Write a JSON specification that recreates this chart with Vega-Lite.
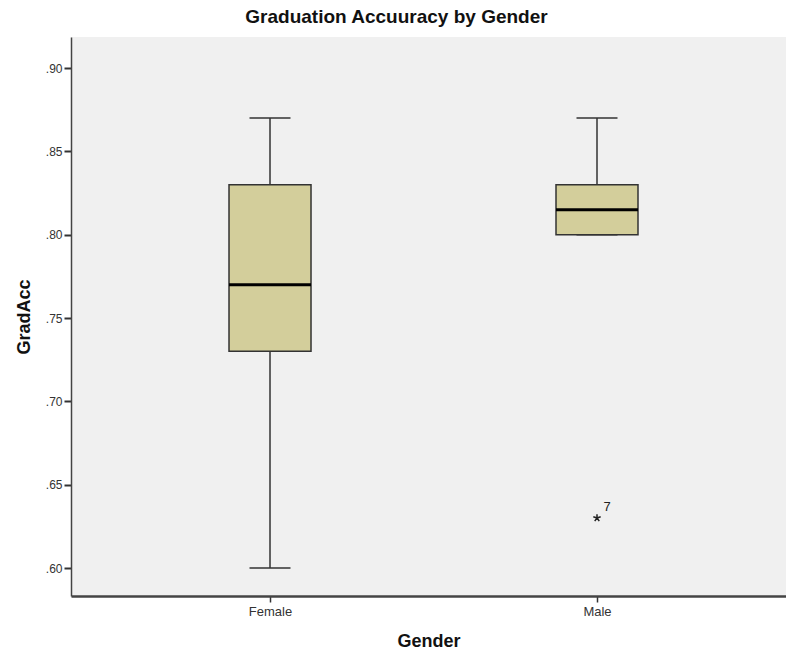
{
  "$schema": "https://vega.github.io/schema/vega-lite/v6.json",
  "width": 715,
  "height": 559,
  "autosize": {"type": "none"},
  "padding": {"left": 71, "top": 37, "right": 0, "bottom": 63},
  "background": "white",
  "title": {"text": "Graduation Accuuracy by Gender", "font": "Liberation Sans", "fontSize": 19, "fontWeight": "bold", "color": "#111", "anchor": "middle", "dx": -32, "offset": 10},
  "config": {
    "view": {"fill": "#f0f0f0", "stroke": null},
    "axis": {"labelFont": "Liberation Sans", "titleFont": "Liberation Sans", "labelColor": "#333", "titleColor": "#111", "domainColor": "#444", "tickColor": "#333", "grid": false}
  },
  "datasets": {
    "boxes": [
      {"Gender": "Female", "lower": 0.60, "q1": 0.73, "median": 0.77, "q3": 0.83, "upper": 0.87},
      {"Gender": "Male", "lower": 0.80, "q1": 0.80, "median": 0.815, "q3": 0.83, "upper": 0.87}
    ],
    "outliers": [
      {"Gender": "Male", "GradAcc": 0.63, "case": "7"}
    ]
  },
  "encoding": {
    "x": {"field": "Gender", "type": "nominal", "sort": ["Female", "Male"],
      "scale": {"type": "point", "padding": 0.5933, "align": 0.5129},
      "axis": {"title": "Gender", "labelAngle": 0, "labelFontSize": 13, "titleFontSize": 18, "titleFontWeight": "bold", "tickSize": 6, "tickWidth": 1.5, "labelPadding": 3, "titlePadding": 14, "domainWidth": 2.5}}
  },
  "layer": [
    {
      "data": {"name": "boxes"},
      "mark": {"type": "rule", "color": "#333", "strokeWidth": 1.5},
      "encoding": {
        "y": {"field": "lower", "type": "quantitative", "scale": {"domain": [0.5832, 0.9186], "nice": false, "zero": false},
          "axis": {"title": "GradAcc", "values": [0.6, 0.65, 0.7, 0.75, 0.8, 0.85, 0.9], "labelExpr": "replace(format(datum.value, '.2f'), '0.', '.')", "labelFontSize": 12, "titleFontSize": 18, "titleFontWeight": "bold", "tickSize": 7, "tickWidth": 2, "domainWidth": 1.5, "labelPadding": 2, "titlePadding": 12}},
        "y2": {"field": "q1"}
      }
    },
    {
      "data": {"name": "boxes"},
      "mark": {"type": "rule", "color": "#333", "strokeWidth": 1.5},
      "encoding": {
        "y": {"field": "q3", "type": "quantitative"},
        "y2": {"field": "upper"}
      }
    },
    {
      "mark": {"type": "rule", "color": "#444", "strokeWidth": 2},
      "encoding": {"x": null, "y": {"datum": 0.918, "type": "quantitative"}}
    },
    {
      "data": {"name": "boxes"},
      "mark": {"type": "tick", "color": "#333", "size": 41, "thickness": 1.5, "opacity": 1},
      "encoding": {"y": {"field": "lower", "type": "quantitative"}}
    },
    {
      "data": {"name": "boxes"},
      "mark": {"type": "tick", "color": "#333", "size": 41, "thickness": 1.5, "opacity": 1},
      "encoding": {"y": {"field": "upper", "type": "quantitative"}}
    },
    {
      "data": {"name": "boxes"},
      "mark": {"type": "bar", "size": 82, "fill": "#d3ce9b", "stroke": "#333", "strokeWidth": 1.5, "opacity": 1},
      "encoding": {
        "y": {"field": "q1", "type": "quantitative"},
        "y2": {"field": "q3"}
      }
    },
    {
      "data": {"name": "boxes"},
      "mark": {"type": "tick", "color": "#000", "size": 82, "thickness": 3, "opacity": 1},
      "encoding": {"y": {"field": "median", "type": "quantitative"}}
    },
    {
      "data": {"name": "outliers"},
      "mark": {"type": "point", "shape": "M0,0L0,-1M0,0L-0.951,-0.309M0,0L-0.588,0.809M0,0L0.588,0.809M0,0L0.951,-0.309", "filled": false, "stroke": "#222", "strokeWidth": 1.5, "size": 60, "opacity": 1},
      "encoding": {"y": {"field": "GradAcc", "type": "quantitative"}}
    },
    {
      "data": {"name": "outliers"},
      "mark": {"type": "text", "font": "Liberation Sans", "fontSize": 13, "color": "#222", "dx": 10, "dy": -11},
      "encoding": {"y": {"field": "GradAcc", "type": "quantitative"}, "text": {"field": "case"}}
    }
  ]
}
